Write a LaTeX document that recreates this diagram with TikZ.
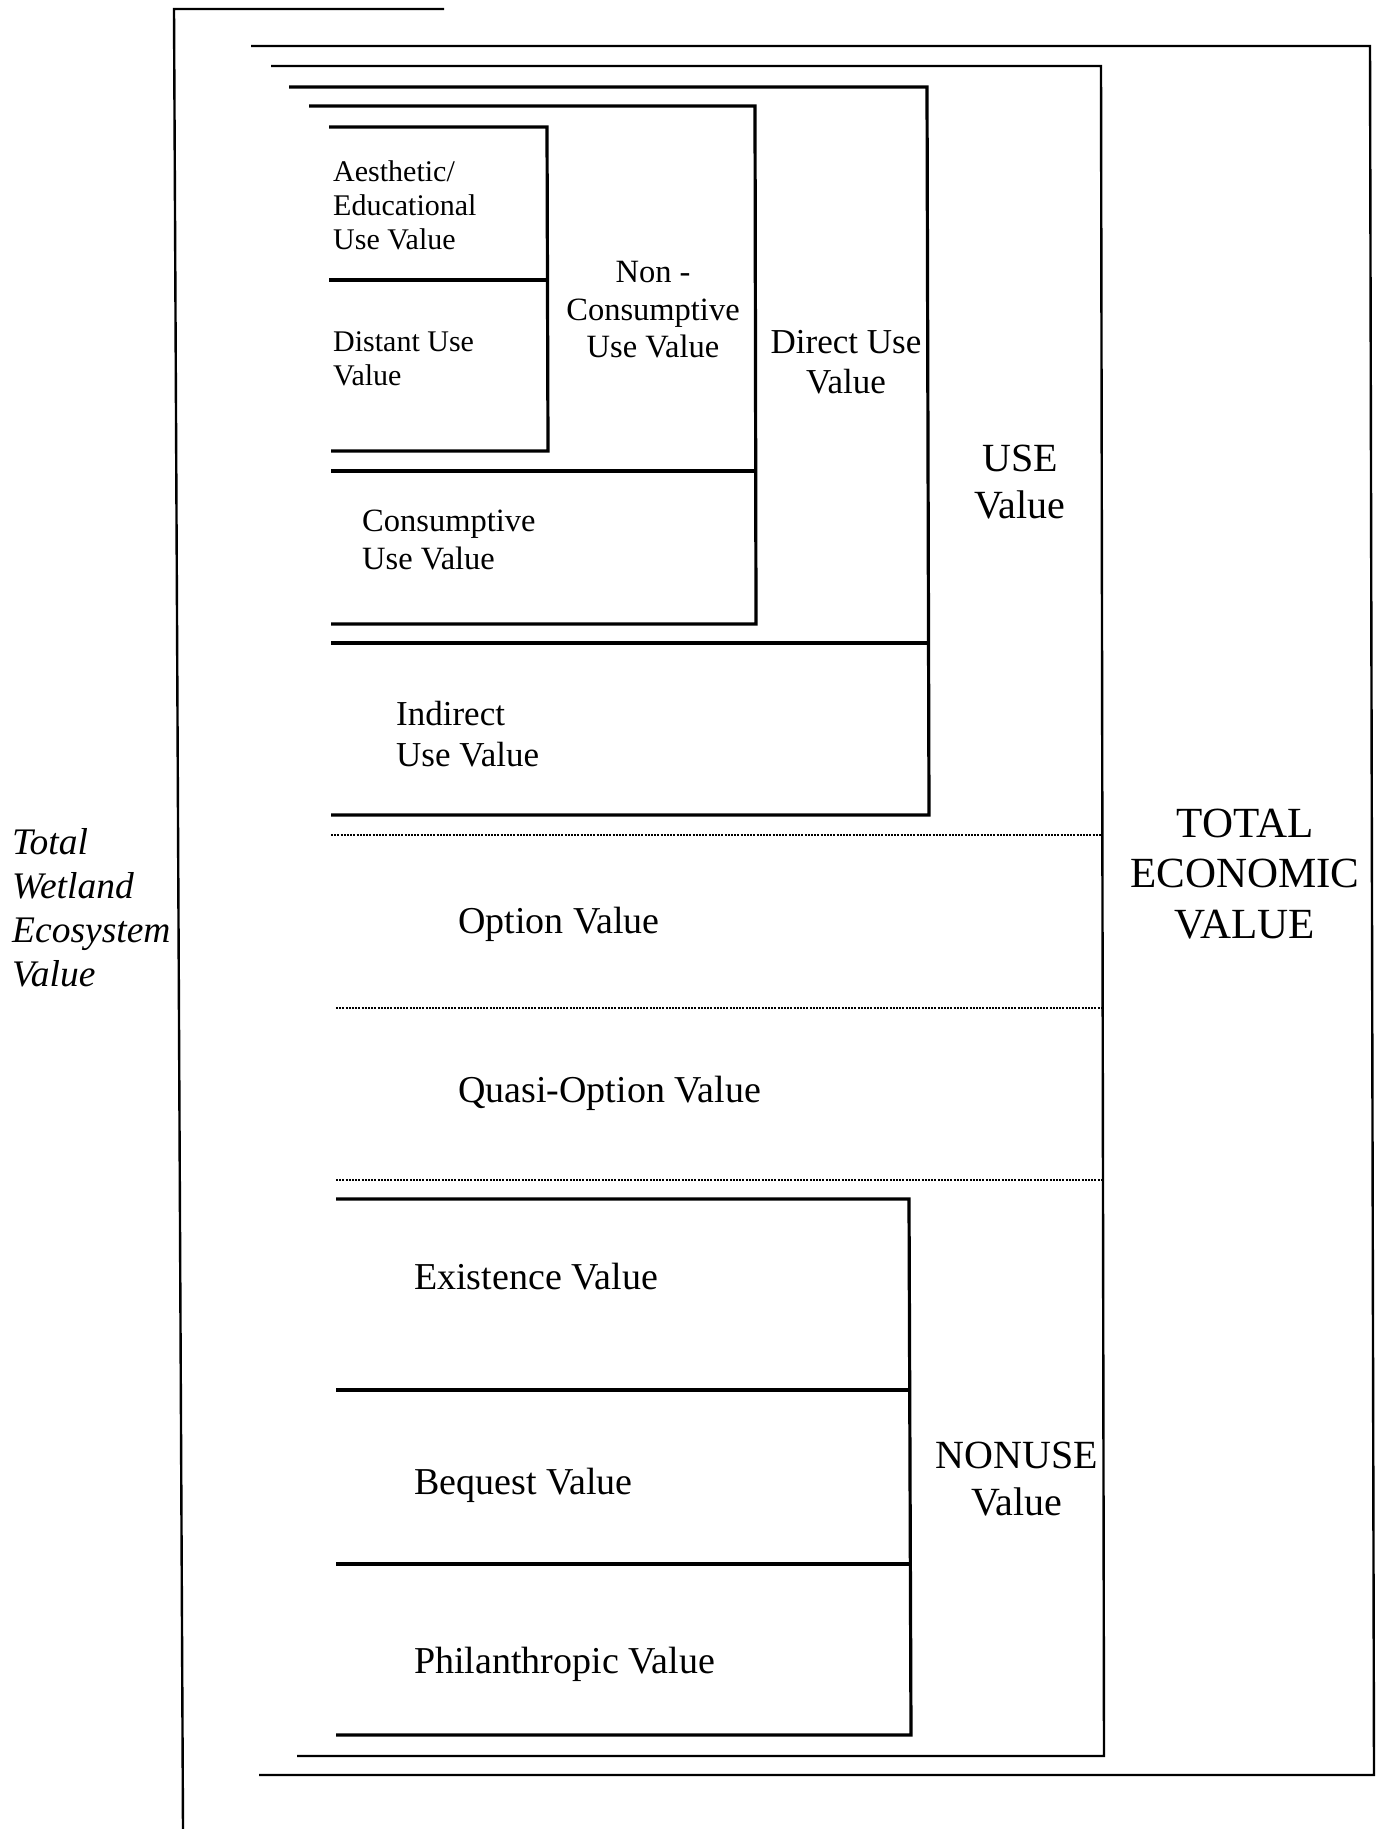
\documentclass[tikz,border=0pt]{standalone}
\usepackage{fontspec}
\setmainfont{Liberation Serif}
\begin{document}
\begin{tikzpicture}[x=1pt,y=-1pt,
  heavy/.style={line width=3.2pt, line join=miter},
  medium/.style={line width=2.4pt, line join=miter},
  dotline/.style={line width=2pt, dash pattern=on 2pt off 1.2pt},
  lbl/.style={inner sep=0pt, align=left, anchor=west},
  clbl/.style={inner sep=0pt, align=center},
  fa/.style={font=\fontsize{30}{34}\selectfont},
  fb/.style={font=\fontsize{32.5}{37.5}\selectfont},
  fc/.style={font=\fontsize{35}{40.5}\selectfont},
  fd/.style={font=\fontsize{38}{44}\selectfont},
  fe/.style={font=\fontsize{40}{46.6}\selectfont},
  ff/.style={font=\fontsize{43}{50.7}\selectfont}]
\useasboundingbox (0,0) rectangle (1376,1829);
\fill[white] (0,0) rectangle (1376,1829);

% outer bracket (Total Wetland Ecosystem Value)
\draw[medium] (444,9) -- (174,9) -- (183,1829);
% TEV bracket
\draw[medium] (251,46) -- (1370,46) -- (1374,1775) -- (259,1775);
% use / nonuse bracket
\draw[medium] (271,66) -- (1101,66) -- (1104,1756) -- (297,1756);
% USE bracket (direct + indirect)
\draw[heavy] (289,87) -- (927,87) -- (929,815) -- (331,815);
\draw[heavy] (331,643) -- (928,643);
% direct use bracket
\draw[heavy] (309,106) -- (755,106) -- (756,624) -- (331,624);
\draw[heavy] (331,471) -- (755,471);
% non-consumptive bracket
\draw[heavy] (329,127) -- (547,127) -- (548,451) -- (331,451);
\draw[heavy] (329,280) -- (547,280);
% dotted separators
\draw[dotline] (331,835) -- (1101,835);
\draw[dotline] (336,1008) -- (1102,1008);
\draw[dotline] (336,1180) -- (1102,1180);
% nonuse bracket
\draw[heavy] (336,1199) -- (909,1199) -- (911,1735) -- (336,1735);
\draw[heavy] (336,1390) -- (910,1390);
\draw[heavy] (336,1564) -- (910,1564);

% labels
\node[lbl,fa] (aes) at (333,205) {Aesthetic/\\Educational\\Use Value};
\node[lbl,fa] (dist) at (333,359) {Distant Use\\Value};
\node[clbl,fb] (noncons) at (653,310) {Non -\\Consumptive\\Use Value};
\node[clbl,fc] (direct) at (846,362) {Direct Use\\Value};
\node[clbl,fe] (use) at (1020,482) {USE\\Value};
\node[lbl,fb] (cons) at (362,540) {Consumptive\\Use Value};
\node[lbl,fc] (indirect) at (396,734) {Indirect\\Use Value};
\node[lbl,fd] (option) at (458,924) {Option Value};
\node[lbl,fd] (quasi) at (458,1093) {Quasi-Option Value};
\node[clbl,ff] (tev) at (1245,874) {TOTAL\\ECONOMIC\\VALUE};
\node[lbl,font=\fontsize{37.5}{44}\selectfont\itshape] (twev) at (12,908) {Total\\Wetland\\Ecosystem\\Value};
\node[lbl,fd] (exist) at (414,1277) {Existence Value};
\node[lbl,fd] (bequest) at (414,1485) {Bequest Value};
\node[lbl,fd] (phil) at (414,1664) {Philanthropic Value};
\node[clbl,fe] (nonuse) at (1017,1479) {NONUSE\\Value};
\end{tikzpicture}
\end{document}
